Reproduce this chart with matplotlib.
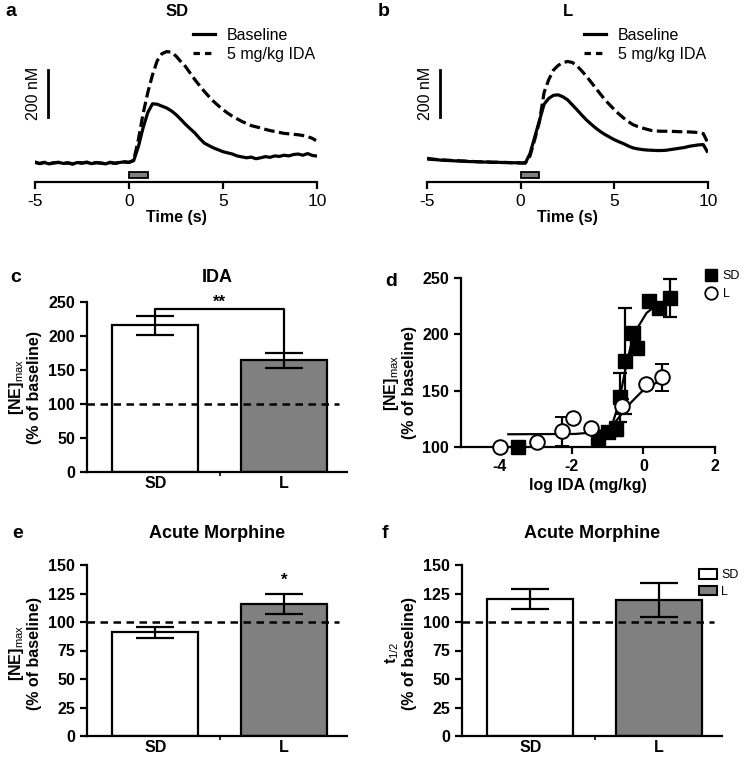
import matplotlib
matplotlib.use("Agg")
import matplotlib.pyplot as plt
from matplotlib.patches import Rectangle, Patch
from matplotlib.lines import Line2D

plt.rcParams['font.family'] = ['Liberation Sans', 'DejaVu Sans']
plt.rcParams['mathtext.fontset'] = 'custom'
plt.rcParams['mathtext.rm'] = 'Liberation Sans'
plt.rcParams['axes.unicode_minus'] = False

# ---- panel a/b: voltammetry traces (nM vs time) ----
t_trace = [-5.0, -4.75, -4.5, -4.25, -4.0, -3.75, -3.5, -3.25, -3.0, -2.75, -2.5, -2.25,
           -2.0, -1.75, -1.5, -1.25, -1.0, -0.75, -0.5, -0.25, 0.0, 0.25, 0.5, 0.75, 1.0,
           1.25, 1.5, 1.75, 2.0, 2.25, 2.5, 2.75, 3.0, 3.25, 3.5, 3.75, 4.0, 4.25, 4.5, 4.75,
           5.0, 5.25, 5.5, 5.75, 6.0, 6.25, 6.5, 6.75, 7.0, 7.25, 7.5, 7.75, 8.0, 8.25, 8.5,
           8.75, 9.0, 9.25, 9.5, 9.75, 9.95]
sd_baseline = [4, -3, 2, -4, 1, 3, -2, 0, -5, 2, -1, 4, -3, 1, 0, -4, 3, -2, 2, 5, 3,
               10, 70, 150, 215, 252, 250, 242, 234, 222, 206, 186, 165, 146, 128, 105, 85,
               74, 64, 56, 48, 43, 38, 30, 26, 22, 25, 18, 22, 27, 24, 30, 28, 33, 30, 36, 38,
               33, 40, 32, 30]
sd_ida = [2, -2, 3, -3, 0, 2, -3, 1, -4, 3, 0, 2, -2, 2, -1, -3, 2, -1, 3, 4, 2,
          12, 100, 210, 300, 375, 435, 465, 474, 472, 455, 432, 411, 383, 355, 330, 305,
          283, 262, 244, 227, 212, 199, 188, 177, 168, 159, 154, 149, 143, 138, 134, 130,
          126, 124, 122, 120, 117, 112, 105, 95]
l_baseline = [17, 15, 14, 12, 11, 10, 9, 8, 7, 6, 6, 5, 4, 4, 3, 3, 2, 2, 1, 1, 0,
              0, 40, 110, 180, 250, 275, 288, 290, 282, 269, 248, 227, 205, 184, 166, 149,
              134, 121, 110, 99, 90, 82, 72, 64, 60, 57, 55, 54, 53, 53, 54, 57, 60, 63, 66,
              71, 74, 77, 78, 50]
l_ida = [20, 17, 15, 13, 12, 11, 10, 9, 8, 7, 6, 5, 5, 4, 3, 3, 2, 2, 1, 1, 0,
         0, 30, 100, 175, 300, 355, 395, 415, 427, 432, 428, 414, 393, 370, 345, 319,
         294, 269, 248, 227, 208, 191, 176, 163, 155, 149, 143, 138, 136, 135, 135, 135,
         134, 133, 133, 132, 131, 129, 125, 92]

# ---- panel c: IDA bars ----
groups = ["SD", "L"]
ida_mean = [216, 164]
ida_err = [14, 11]

# ---- panel d: dose response ----
sd_dose = [-3.5, -1.27, -1.0, -0.75, -0.65, -0.51, -0.3, -0.18, 0.15, 0.45, 0.74]
sd_resp = [100, 108, 113, 116, 144, 176, 201, 188, 230, 223, 232]
sd_resp_err = [0, 0, 0, 6, 22, 47, 0, 0, 0, 0, 17]
l_dose = [-4.0, -2.98, -2.28, -1.95, -1.46, -0.6, 0.07, 0.53]
l_resp = [100, 104.5, 114, 126, 117, 136, 156, 162]
l_resp_err = [0, 0, 13, 0, 0, 7, 0, 12]
# fitted curves
sd_fit_x = [-1.35, -1.07, -0.88, -0.74, -0.6, -0.47, -0.33, -0.14, 0.09, 0.37, 0.7]
sd_fit_y = [111, 113, 119, 133, 153, 174, 192, 207, 219, 226, 231]
l_fit_x = [-3.77, -1.9, -1.44, -1.07, -0.79, -0.56, -0.33, -0.05, 0.23, 0.51, 0.7]
l_fit_y = [111.3, 111.6, 112.8, 115.4, 122, 131, 140, 149, 155, 159, 161.5]

# ---- panels e/f: acute morphine ----
morph_ne_mean = [91, 116]
morph_ne_err = [5, 9]
morph_t12_mean = [120, 119]
morph_t12_err = [9, 15]

bar_colors = ["white", "#808080"]

W, H = 751, 757
fig = plt.figure(figsize=(W / 100, H / 100), dpi=100)


def add_ax(left, top, right, bottom):
    return fig.add_axes([left / W, 1 - bottom / H, (right - left) / W, (bottom - top) / H])


def fig_text(x, y, s, **kw):
    fig.text(x / W, 1 - y / H, s, **kw)


def style_axes(ax, bold=True, size=11.5):
    for s in ["top", "right"]:
        ax.spines[s].set_visible(False)
    for s in ["left", "bottom"]:
        ax.spines[s].set_linewidth(1.6)
    ax.tick_params(direction="out", length=5, width=1.6, labelsize=size)
    for lab in ax.get_xticklabels() + ax.get_yticklabels():
        lab.set_fontweight("bold" if bold else "normal")


def trace_panel(ax, base, ida, legend_x):
    ax.plot(t_trace, base, color="black", lw=2.3, label="Baseline")
    ax.plot(t_trace, ida, color="black", lw=2.3, ls=(0, (3.3, 1.4)), label="5 mg/kg IDA")
    ax.set_xlim(-5, 10)
    ax.set_ylim(-81, 566)
    ax.spines["left"].set_visible(False)
    ax.set_yticks([])
    ax.set_xticks([-5, 0, 5, 10])
    style_axes(ax, bold=False, size=12.5)
    ax.set_xlabel("Time (s)", fontweight="bold", fontsize=11.5, labelpad=1)
    # stimulation bar
    ax.add_patch(Rectangle((0, -64), 1, 26, facecolor="#808080", edgecolor="black",
                           lw=1.3, clip_on=False))
    # scale bar
    ax.plot([-4.3, -4.3], [196, 396], color="black", lw=2, clip_on=False)
    ax.text(-5.1, 296, "200 nM", rotation=90, ha="center", va="center", fontsize=11.5)
    handles = [Line2D([], [], color="black", lw=2.3),
               Line2D([], [], color="black", lw=2.3, ls=(0, (2, 1.6)))]
    ax.legend(handles, ["Baseline", "5 mg/kg IDA"], loc="upper left", frameon=False,
              bbox_to_anchor=(legend_x / W, 1 - 28 / H), bbox_transform=fig.transFigure,
              fontsize=11.5, handlelength=1.4, handletextpad=0.7, borderpad=0,
              borderaxespad=0, labelspacing=0.25)


# panel a
ax_a = add_ax(35, 30, 317, 182)
trace_panel(ax_a, sd_baseline, sd_ida, 193)
fig_text(5, 11, "a", fontsize=14, fontweight="bold", va="center")
fig_text(177, 11, "SD", fontsize=12, fontweight="bold", ha="center", va="center")

# panel b
ax_b = add_ax(427, 30, 708, 182)
trace_panel(ax_b, l_baseline, l_ida, 584)
fig_text(378, 11, "b", fontsize=14, fontweight="bold", va="center")
fig_text(568, 11, "L", fontsize=12, fontweight="bold", ha="center", va="center")


def bar_panel(ax, means, errs, ymax, yticks, ylabel, label_y):
    ax.bar([0, 1], means, width=0.67, color=bar_colors, edgecolor="black", lw=1.6, zorder=2)
    ax.errorbar([0, 1], means, yerr=errs, fmt="none", ecolor="black", elinewidth=1.6,
                capsize=14, capthick=1.6, zorder=3)
    ax.axhline(100, xmin=0, xmax=0.97, color="black", lw=1.8, ls=(0, (3, 2.2)), zorder=4)
    ax.set_xlim(-0.53, 1.49)
    ax.set_ylim(0, ymax)
    ax.set_yticks(yticks)
    ax.set_xticks([0, 1])
    ax.set_xticklabels(groups)
    ax.set_xticks([0.5], minor=True)
    style_axes(ax)
    ax.tick_params(axis="x", which="major", length=0, pad=3)
    ax.tick_params(axis="x", which="minor", length=3, width=1.2)
    ax.set_ylabel(ylabel, fontweight="bold", fontsize=11.5, linespacing=1.1)
    ax.yaxis.set_label_coords(-0.173, label_y)


# panel c
ax_c = add_ax(87, 302, 347, 472)
bar_panel(ax_c, ida_mean, ida_err, 250, [0, 50, 100, 150, 200, 250],
          "[NE]$_{\\mathrm{max}}$\n(% of baseline)", 0.5)
bracket_y = 240
ax_c.plot([0, 0, 1, 1], [ida_mean[0] + ida_err[0], bracket_y, bracket_y,
                         ida_mean[1] + ida_err[1]], color="black", lw=1.6, clip_on=False)
ax_c.text(0.5, 250, "**", ha="center", va="center", fontsize=12, fontweight="bold")
fig_text(10, 277, "c", fontsize=14, fontweight="bold", va="center")
fig_text(217, 277, "IDA", fontsize=13, fontweight="bold", ha="center", va="center")

# panel d
ax_d = add_ax(461, 278, 715, 447)
ax_d.plot(sd_fit_x, sd_fit_y, color="black", lw=1.6, zorder=2)
ax_d.plot(l_fit_x, l_fit_y, color="black", lw=1.6, zorder=2)
ax_d.errorbar(sd_dose, sd_resp, yerr=sd_resp_err, fmt="s", color="black", ms=10.5,
              mfc="black", mec="black", elinewidth=1.6, capsize=5, capthick=1.6,
              clip_on=False, zorder=3)
ax_d.errorbar(l_dose, l_resp, yerr=l_resp_err, fmt="o", color="black", ms=10.5,
              mfc="white", mec="black", mew=1.4, elinewidth=1.6, capsize=5, capthick=1.6,
              clip_on=False, zorder=4)
ax_d.set_xlim(-5.09, 2)
ax_d.set_ylim(100, 250)
ax_d.set_xticks([-4, -2, 0, 2])
ax_d.set_yticks([100, 150, 200, 250])
style_axes(ax_d)
ax_d.set_xlabel("log IDA (mg/kg)", fontweight="bold", fontsize=11.5, labelpad=3)
ax_d.set_ylabel("[NE]$_{\\mathrm{max}}$\n(% of baseline)", fontweight="bold", fontsize=11.5,
                linespacing=1.1)
ax_d.yaxis.set_label_coords(-0.173, 0.38)
d_handles = [Line2D([], [], ls="none", marker="s", ms=9, mfc="black", mec="black"),
             Line2D([], [], ls="none", marker="o", ms=9, mfc="white", mec="black", mew=1.3)]
ax_d.legend(d_handles, groups, loc="upper left", frameon=False,
            bbox_to_anchor=(705 / W, 1 - 270 / H), bbox_transform=fig.transFigure,
            fontsize=9, handlelength=1.0, handletextpad=0.4, borderpad=0, borderaxespad=0,
            labelspacing=0.5)
fig_text(385, 281, "d", fontsize=14, fontweight="bold", va="center")

# panel e
ax_e = add_ax(87, 565, 347, 736)
bar_panel(ax_e, morph_ne_mean, morph_ne_err, 150, [0, 25, 50, 75, 100, 125, 150],
          "[NE]$_{\\mathrm{max}}$\n(% of baseline)", 0.485)
ax_e.text(1, 137, "*", ha="center", va="center", fontsize=12, fontweight="bold")
fig_text(12, 533, "e", fontsize=14, fontweight="bold", va="center")
fig_text(217, 533, "Acute Morphine", fontsize=13, fontweight="bold", ha="center", va="center")

# panel f
ax_f = add_ax(462, 565, 722, 736)
bar_panel(ax_f, morph_t12_mean, morph_t12_err, 150, [0, 25, 50, 75, 100, 125, 150],
          "t$_{\\mathrm{1/2}}$\n(% of baseline)", 0.485)
f_handles = [Patch(facecolor=c, edgecolor="black", lw=1.5) for c in bar_colors]
ax_f.legend(f_handles, groups, loc="upper left", frameon=False,
            bbox_to_anchor=(699 / W, 1 - 569 / H), bbox_transform=fig.transFigure,
            fontsize=9, handlelength=1.4, handleheight=0.8, handletextpad=0.4, borderpad=0,
            borderaxespad=0, labelspacing=0.35)
fig_text(382, 533, "f", fontsize=14, fontweight="bold", va="center")
fig_text(592, 533, "Acute Morphine", fontsize=13, fontweight="bold", ha="center", va="center")

fig.savefig("out.png", dpi=100)
